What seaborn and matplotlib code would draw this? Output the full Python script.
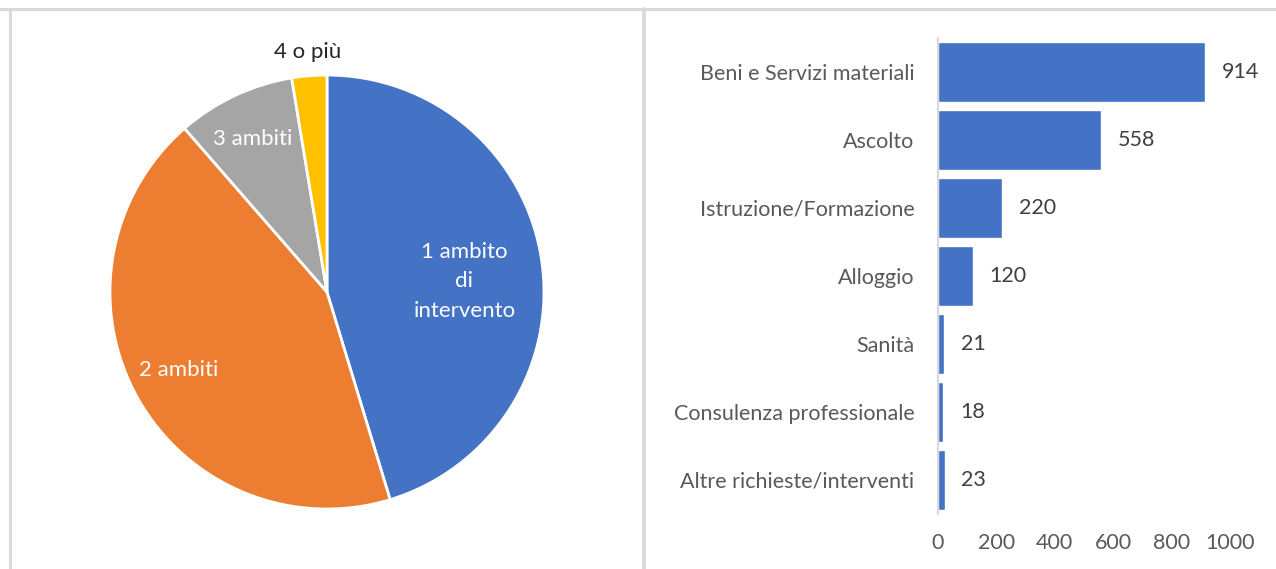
import matplotlib
matplotlib.use("Agg")
import matplotlib.pyplot as plt
import seaborn as sns
import numpy as np
from matplotlib.lines import Line2D

# Pie data: number of areas of intervention
pie_labels = ["1 ambito\ndi\nintervento", "2 ambiti", "3 ambiti", "4 o più"]
pie_values = [45.3, 43.3, 8.8, 2.6]
pie_colors = ["#4472C4", "#ED7D31", "#A5A5A5", "#FFC000"]

# Bar data: type of requests / interventions
bar_cats = ["Beni e Servizi materiali", "Ascolto", "Istruzione/Formazione",
            "Alloggio", "Sanità", "Consulenza professionale",
            "Altre richieste/interventi"]
bar_values = [914, 558, 220, 120, 21, 18, 23]
bar_ticks = [0, 200, 400, 600, 800, 1000]

sns.set_style("white")
plt.rcParams["font.family"] = ["Lato", "DejaVu Sans"]

fig = plt.figure(figsize=(12.76, 5.69), dpi=100)

# panel frames
grey = "#D9D9D9"
fig.add_artist(Line2D([0.0, 1.0], [1 - 8.5 / 569] * 2, color=grey, lw=2.2, transform=fig.transFigure))
fig.add_artist(Line2D([9.5 / 1276] * 2, [0, 1 - 8.5 / 569], color=grey, lw=2.2, transform=fig.transFigure))
fig.add_artist(Line2D([643.5 / 1276] * 2, [0, 1 - 8.5 / 569], color=grey, lw=2.6, transform=fig.transFigure))

# ---- pie
ax1 = fig.add_axes([0.0862, 0.1054, 0.3401, 0.7627])
wedges, _ = ax1.pie(pie_values, colors=pie_colors, startangle=90, counterclock=False,
                    wedgeprops=dict(edgecolor="white", linewidth=2))
ax1.set_xlim(-1, 1)
ax1.set_ylim(-1, 1)
ax1.set_aspect("equal")

label_r = [0.64, 0.78, 0.80, 1.10]
label_dy = [-0.045, 0.02, -0.02, 0.01]
label_col = ["white", "white", "white", "#262626"]
for w, lab, r, dy, c in zip(wedges, pie_labels, label_r, label_dy, label_col):
    ang = np.deg2rad((w.theta1 + w.theta2) / 2)
    ax1.text(r * np.cos(ang), r * np.sin(ang) + dy, lab, ha="center", va="center",
             color=c, fontsize=16, linespacing=1.6)

# ---- horizontal bars
ax2 = fig.add_axes([0.7351, 0.0967, 0.2288, 0.8366])
sns.barplot(x=bar_values, y=bar_cats, orient="h", color="#4472C4",
            width=0.87, saturation=1, ax=ax2)
ax2.set_xlim(0, 1000)
ax2.set_ylim(6.5, -0.5)
ax2.set_xticks(bar_ticks)
ax2.tick_params(axis="both", length=0, labelsize=15.5, colors="#595959")
ax2.tick_params(axis="x", pad=14)
ax2.tick_params(axis="y", pad=17)
for s in ["top", "right", "bottom"]:
    ax2.spines[s].set_visible(False)
ax2.spines["left"].set_color("#D9D9D9")
ax2.spines["left"].set_linewidth(1.5)
for i, v in enumerate(bar_values):
    ax2.text(v + 57, i, str(v), va="center", ha="left", fontsize=15.5, color="#404040")

fig.savefig("out.png", dpi=100, facecolor="white")
